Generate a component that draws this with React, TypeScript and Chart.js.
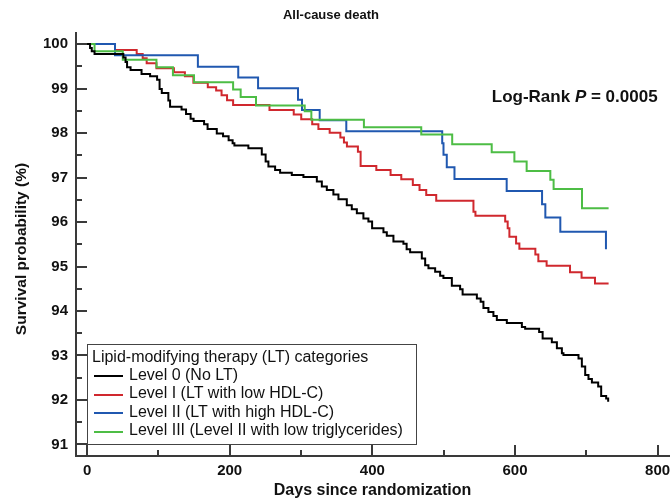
import React, { useEffect, useRef } from 'react';
import { Chart, registerables } from 'chart.js';

Chart.register(...registerables);

// ---- text ----
const chartTitle = 'All-cause death';
const xAxisTitle = 'Days since randomization';
const yAxisTitle = 'Survival probability (%)';
const legendTitle = 'Lipid-modifying therapy (LT) categories';
const annotationPrefix = 'Log-Rank ';
const annotationItalic = 'P';
const annotationSuffix = ' = 0.0005';

// ---- series ----
const seriesLabels = [
  'Level 0 (No LT)',
  'Level I (LT with low HDL-C)',
  'Level II (LT with high HDL-C)',
  'Level III (Level II with low triglycerides)',
];
const seriesColors = ['#000000', '#d0282e', '#2058b0', '#4dbd45'];

const level0Days = [0, 4.2, 6.6, 10.5, 50.9, 54, 56.1, 61, 76.4, 88.4, 98.2, 101.7, 104.8, 114, 116.4, 132.5, 138.8, 145.2, 149.4, 164.1, 169, 181.9, 190.7, 198.5, 204.1, 206.6, 226.2, 245, 250.4, 254.3, 263.7, 270.7, 287.1, 303.4, 322.2, 329.2, 336.2, 345.4, 352.5, 364.2, 371.2, 378.3, 387.5, 394.5, 399.7, 415.6, 420.3, 429.6, 443.6, 448.1, 453, 469.4, 474.1, 478.7, 488.1, 495.1, 499.7, 511.5, 523.1, 526.6, 546.6, 551.9, 555.8, 562.8, 569.8, 574.6, 588.6, 609.7, 614.3, 633.9, 638.8, 651.7, 658.8, 665.8, 668, 689.1, 693.8, 698.5, 703.1, 707.9, 716.7, 720.9, 727.9, 730.7];
const level0Survival = [100, 99.91, 99.84, 99.78, 99.70, 99.60, 99.48, 99.42, 99.33, 99.28, 99.20, 98.99, 98.90, 98.73, 98.59, 98.53, 98.43, 98.32, 98.27, 98.20, 98.09, 97.99, 97.93, 97.84, 97.77, 97.72, 97.66, 97.52, 97.36, 97.25, 97.17, 97.11, 97.06, 97.01, 96.91, 96.80, 96.72, 96.62, 96.51, 96.38, 96.29, 96.20, 96.08, 96.01, 95.86, 95.77, 95.69, 95.56, 95.51, 95.39, 95.32, 95.18, 95.03, 94.96, 94.88, 94.79, 94.74, 94.57, 94.49, 94.37, 94.28, 94.21, 94.07, 93.98, 93.89, 93.80, 93.73, 93.64, 93.60, 93.53, 93.38, 93.30, 93.16, 93.05, 93.01, 92.93, 92.75, 92.56, 92.47, 92.39, 92.30, 92.09, 92.03, 91.96];

const level1Days = [0, 39.2, 69.6, 78, 83.6, 97.3, 121.8, 137.2, 149.1, 169.3, 181, 188.6, 196.3, 204.8, 255.8, 289.8, 300.3, 315.7, 324.4, 340.2, 355.2, 360.2, 364.4, 379.8, 383.6, 405.6, 425.6, 440.6, 456.8, 466.2, 475.6, 489.6, 541.8, 544.6, 586.3, 589.8, 592.2, 601.6, 606.2, 628.6, 632.8, 644.4, 677.2, 693.4, 712.2, 731.3];
const level1Survival = [100, 99.87, 99.78, 99.68, 99.57, 99.46, 99.37, 99.28, 99.13, 99.03, 98.96, 98.85, 98.74, 98.63, 98.52, 98.42, 98.31, 98.20, 98.09, 98.01, 97.90, 97.79, 97.70, 97.58, 97.26, 97.17, 97.06, 96.96, 96.83, 96.72, 96.61, 96.48, 96.23, 96.14, 96.01, 95.86, 95.67, 95.52, 95.40, 95.27, 95.12, 95.02, 94.87, 94.75, 94.62, 94.62];

const level2Days = [0, 39.2, 155.4, 212, 239.8, 295.8, 301.4, 326.2, 363.5, 498, 499.8, 504.4, 515.2, 588.4, 638, 642.6, 663.6, 727.6];
const level2Survival = [100, 99.75, 99.49, 99.25, 99.01, 98.75, 98.52, 98.29, 98.04, 97.77, 97.51, 97.23, 96.97, 96.70, 96.40, 96.10, 95.78, 95.39];

const level3Days = [0, 10.5, 50.1, 97.3, 120.4, 150, 204.8, 215.4, 236.9, 305.2, 314.5, 388.2, 468.6, 512, 567.4, 599.2, 616.4, 649.6, 654.2, 694, 731.3];
const level3Survival = [100, 99.84, 99.65, 99.48, 99.30, 99.14, 98.98, 98.81, 98.62, 98.49, 98.30, 98.13, 97.97, 97.75, 97.57, 97.36, 97.15, 96.95, 96.74, 96.31, 96.31];

// ---- axes ----
const xMajorTicks = [0, 200, 400, 600, 800];
const xMinorTicks = [100, 300, 500, 700];
const yMajorTicks = [91, 92, 93, 94, 95, 96, 97, 98, 99, 100];
const yMinorTicks = [91.5, 92.5, 93.5, 94.5, 95.5, 96.5, 97.5, 98.5, 99.5];

const FONT = 'Liberation Sans, Arial, Helvetica, sans-serif';
const AXIS_COLOR = '#3a3a3a';
const TEXT_COLOR = '#111111';

const toPoints = (days: number[], surv: number[]) => days.map((d, i) => ({ x: d, y: surv[i] }));

const decorPlugin = {
  id: 'decor',
  afterDraw(chart: any) {
    const { ctx, chartArea, scales } = chart;
    const xs = scales.x;
    const ys = scales.y;
    ctx.save();

    // inward ticks
    ctx.strokeStyle = AXIS_COLOR;
    ctx.lineWidth = 2;
    ctx.beginPath();
    const left = chartArea.left;
    const bottom = chartArea.bottom;
    yMajorTicks.forEach((v) => {
      const p = Math.round(ys.getPixelForValue(v));
      ctx.moveTo(left, p);
      ctx.lineTo(left + 11, p);
    });
    yMinorTicks.forEach((v) => {
      const p = Math.round(ys.getPixelForValue(v));
      ctx.moveTo(left, p);
      ctx.lineTo(left + 6, p);
    });
    xMajorTicks.forEach((v) => {
      const p = Math.round(xs.getPixelForValue(v));
      ctx.moveTo(p, bottom);
      ctx.lineTo(p, bottom - 11);
    });
    xMinorTicks.forEach((v) => {
      const p = Math.round(xs.getPixelForValue(v));
      ctx.moveTo(p, bottom);
      ctx.lineTo(p, bottom - 6);
    });
    ctx.stroke();

    ctx.fillStyle = TEXT_COLOR;
    // chart title
    ctx.font = `bold 13px ${FONT}`;
    ctx.textAlign = 'center';
    ctx.textBaseline = 'middle';
    ctx.fillText(chartTitle, 331, 15);

    // x axis title
    ctx.font = `bold 16px ${FONT}`;
    ctx.fillText(xAxisTitle, (chartArea.left + chartArea.right) / 2, 491);

    // y axis title
    ctx.save();
    ctx.translate(22, 249);
    ctx.rotate(-Math.PI / 2);
    ctx.font = `bold 15.5px ${FONT}`;
    ctx.fillText(yAxisTitle, 0, 0);
    ctx.restore();

    // annotation
    const annRight = xs.getPixelForValue(800);
    const annY = 97;
    ctx.textAlign = 'left';
    ctx.font = `bold 17px ${FONT}`;
    const w1 = ctx.measureText(annotationPrefix).width;
    const w3 = ctx.measureText(annotationSuffix).width;
    ctx.font = `italic bold 17px ${FONT}`;
    const w2 = ctx.measureText(annotationItalic).width;
    let ax = annRight - (w1 + w2 + w3);
    ctx.font = `bold 17px ${FONT}`;
    ctx.fillText(annotationPrefix, ax, annY);
    ax += w1;
    ctx.font = `italic bold 17px ${FONT}`;
    ctx.fillText(annotationItalic, ax, annY);
    ax += w2;
    ctx.font = `bold 17px ${FONT}`;
    ctx.fillText(annotationSuffix, ax, annY);

    // legend box
    const bx = Math.round(xs.getPixelForValue(0));
    const bBottom = Math.round(ys.getPixelForValue(91));
    const bTop = 344;
    ctx.font = `16px ${FONT}`;
    let maxW = ctx.measureText(legendTitle).width + 5;
    seriesLabels.forEach((l) => {
      maxW = Math.max(maxW, 42 + ctx.measureText(l).width);
    });
    const bw = Math.max(328, Math.ceil(maxW + 13));
    ctx.fillStyle = '#ffffff';
    ctx.fillRect(bx, bTop, bw, bBottom - bTop);
    ctx.strokeStyle = '#444444';
    ctx.lineWidth = 1;
    ctx.strokeRect(bx + 0.5, bTop + 0.5, bw, bBottom - bTop);

    ctx.fillStyle = TEXT_COLOR;
    ctx.textBaseline = 'middle';
    ctx.fillText(legendTitle, bx + 5, bTop + 14);
    chart.data.datasets.forEach((ds: any, i: number) => {
      const ry = bTop + 31.5 + i * 18.5;
      ctx.strokeStyle = ds.borderColor;
      ctx.lineWidth = 2;
      ctx.beginPath();
      ctx.moveTo(bx + 7, Math.round(ry + 0.5));
      ctx.lineTo(bx + 36, Math.round(ry + 0.5));
      ctx.stroke();
      ctx.fillStyle = TEXT_COLOR;
      ctx.fillText(ds.label, bx + 42, ry);
    });

    ctx.restore();
  },
};

export default function App() {
  const canvasRef = useRef<HTMLCanvasElement | null>(null);

  useEffect(() => {
    const canvas = canvasRef.current;
    if (!canvas) return;
    const seriesDays = [level0Days, level1Days, level2Days, level3Days];
    const seriesSurv = [level0Survival, level1Survival, level2Survival, level3Survival];
    const drawOrder = [0, 3, 2, 1];
    const tickFont = { family: FONT, size: 15, weight: 'bold' as const };
    const chart = new Chart(canvas, {
      type: 'line',
      data: {
        datasets: seriesLabels.map((label, i) => ({
          label,
          data: toPoints(seriesDays[i], seriesSurv[i]),
          borderColor: seriesColors[i],
          backgroundColor: seriesColors[i],
          borderWidth: 2,
          stepped: 'before' as const,
          pointRadius: 0,
          fill: false,
          order: drawOrder[i],
        })),
      },
      options: {
        animation: false,
        responsive: false,
        layout: { padding: { top: 33, right: 2, left: 0, bottom: 0 } },
        plugins: {
          legend: { display: false },
          tooltip: { enabled: false },
          title: { display: false },
        },
        scales: {
          x: {
            type: 'linear',
            min: -15.5,
            max: 816,
            afterBuildTicks: (s: any) => {
              s.ticks = xMajorTicks.map((v) => ({ value: v }));
            },
            afterFit: (s: any) => {
              s.height = 44;
              s.paddingLeft = 0;
              s.paddingRight = 0;
            },
            grid: { display: false, drawTicks: false },
            border: { display: true, width: 2, color: AXIS_COLOR },
            ticks: { font: tickFont, color: TEXT_COLOR, padding: 6, maxRotation: 0, autoSkip: false },
          },
          y: {
            type: 'linear',
            min: 90.74,
            max: 100.25,
            afterBuildTicks: (s: any) => {
              s.ticks = yMajorTicks.map((v) => ({ value: v }));
            },
            afterFit: (s: any) => {
              s.width = 76;
              s.paddingTop = 0;
              s.paddingBottom = 0;
            },
            grid: { display: false, drawTicks: false },
            border: { display: true, width: 2, color: AXIS_COLOR },
            ticks: { font: tickFont, color: TEXT_COLOR, padding: 8, autoSkip: false },
          },
        },
      },
      plugins: [decorPlugin],
    });
    return () => chart.destroy();
  }, []);

  return (
    <div style={{ position: 'fixed', left: 0, top: 0, width: 671, height: 500, background: '#ffffff' }}>
      <canvas ref={canvasRef} width={671} height={500} style={{ width: 671, height: 500, display: 'block' }} />
    </div>
  );
}
